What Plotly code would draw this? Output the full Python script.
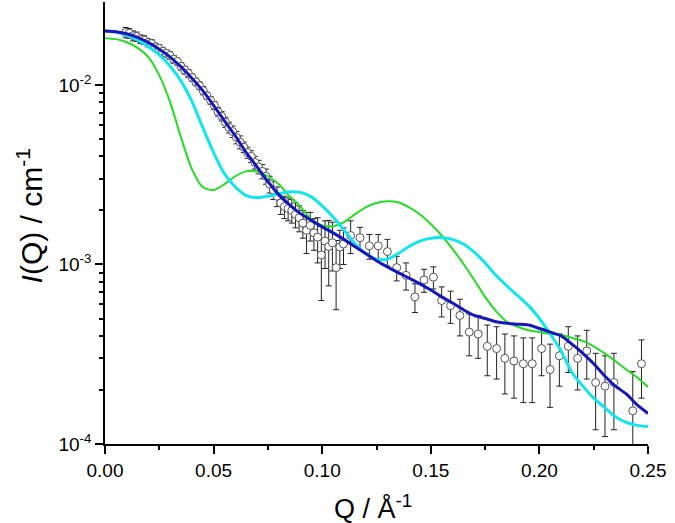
import plotly.graph_objects as go

# ---- measured data (Q in 1/Angstrom, I in 1/cm) ----
q_data = [0.0095, 0.0112, 0.0129, 0.0146, 0.0163, 0.0180, 0.0197, 0.0214, 0.0231, 0.0248,
          0.0265, 0.0282, 0.0299, 0.0316, 0.0333, 0.0350, 0.0367, 0.0384, 0.0401, 0.0418,
          0.0435, 0.0452, 0.0469, 0.0486, 0.0503, 0.0520, 0.0537, 0.0554, 0.0571, 0.0588,
          0.0605, 0.0622, 0.0639, 0.0656, 0.0673, 0.0690, 0.0707, 0.0724, 0.0741, 0.0758,
          0.0775, 0.0792, 0.0809, 0.0826, 0.0843, 0.0860, 0.0877, 0.0894, 0.0911, 0.0928,
          0.0945, 0.0962, 0.0979, 0.0996, 0.1013, 0.1030, 0.1047, 0.1064, 0.1081, 0.1098,
          0.1131, 0.1174, 0.1217, 0.1258, 0.1300, 0.1343, 0.1386, 0.1427, 0.1469, 0.1512,
          0.1550, 0.1591, 0.1634, 0.1677, 0.1718, 0.1760, 0.1803, 0.1841, 0.1883, 0.1926,
          0.1967, 0.2010, 0.2049, 0.2092, 0.2133, 0.2176, 0.2218, 0.2259, 0.2302, 0.2343,
          0.2430, 0.2470]
i_data = [0.0196, 0.0194, 0.0188, 0.0186, 0.0180, 0.0178, 0.0172, 0.0170, 0.0163, 0.0160,
          0.0154, 0.0150, 0.0146, 0.0139, 0.0135, 0.0127, 0.0121, 0.0116, 0.0110, 0.0104,
          0.0099, 0.0093, 0.0087, 0.0082, 0.0077, 0.0071, 0.0067, 0.0062, 0.0058, 0.0055,
          0.0051, 0.0048, 0.0045, 0.0042, 0.0040, 0.0037, 0.0035, 0.0033, 0.0031, 0.0028,
          0.0026, 0.0024, 0.0022, 0.0021, 0.00205, 0.0020, 0.0019, 0.00182, 0.0017, 0.00155,
          0.00165, 0.0015, 0.00142, 0.00113, 0.00135, 0.00126, 0.00132, 0.00096, 0.00125, 0.00130,
          0.00145, 0.00141, 0.00127, 0.00127, 0.00118, 0.00096, 0.00087, 0.00066, 0.00082, 0.00085,
          0.00063, 0.00059, 0.00052, 0.00042, 0.00041, 0.00035, 0.00034, 0.00030, 0.00029, 0.00028,
          0.00028, 0.00034, 0.00026, 0.00031, 0.00035, 0.00030, 0.00033, 0.00022, 0.00021, 0.00022,
          0.000153, 0.00028]
i_err = [0.0013, 0.0012, 0.0012, 0.0011, 0.0010, 0.0010, 0.0009, 0.0009, 0.0008, 0.0008,
         0.0008, 0.0007, 0.0007, 0.0007, 0.0006, 0.0006, 0.0006, 0.0006, 0.0005, 0.0005,
         0.0005, 0.0005, 0.0004, 0.0004, 0.0004, 0.0004, 0.0004, 0.0004, 0.0004, 0.0004,
         0.0004, 0.0004, 0.0003, 0.0003, 0.0003, 0.0003, 0.0003, 0.0003, 0.0003, 0.0003,
         0.0003, 0.0003, 0.0003, 0.0003, 0.0003, 0.0003, 0.0003, 0.0003, 0.0003, 0.0004,
         0.0003, 0.0003, 0.0004, 0.0005, 0.0004, 0.0005, 0.0004, 0.0004, 0.0003, 0.0003,
         0.0003, 0.0002, 0.0002, 0.0002, 0.0002, 0.00015, 0.00015, 0.00012, 0.00012, 0.00012,
         0.00012, 0.00012, 0.00012, 0.00011, 0.00011, 0.00011, 0.00011, 0.00011, 0.00011, 0.00011,
         0.00011, 0.00010, 0.00010, 0.00010, 0.00010, 0.00010, 0.00010, 0.00010, 0.00010, 0.00010,
         0.00010, 0.00010]

# ---- model curves ----
q_fit = [0.000, 0.005, 0.010, 0.015, 0.020, 0.025, 0.030, 0.035, 0.040, 0.045,
         0.050, 0.055, 0.060, 0.065, 0.070, 0.075, 0.080, 0.085, 0.090, 0.095,
         0.100, 0.105, 0.110, 0.115, 0.120, 0.125, 0.130, 0.135, 0.140, 0.145,
         0.150, 0.155, 0.160, 0.165, 0.170, 0.175, 0.180, 0.185, 0.190, 0.195,
         0.200, 0.205, 0.210, 0.215, 0.220, 0.225, 0.230, 0.235, 0.240, 0.245,
         0.250]
i_blue = [0.0200, 0.0198, 0.0193, 0.0184, 0.0172, 0.0158, 0.0143, 0.0126, 0.0109, 0.0093,
          0.0077, 0.0063, 0.0052, 0.0042, 0.0035, 0.0029, 0.00245, 0.00215, 0.00192, 0.00176,
          0.00162, 0.00150, 0.00138, 0.00126, 0.00115, 0.00105, 0.00097, 0.00090, 0.00084, 0.00078,
          0.00072, 0.00066, 0.00061, 0.00056, 0.00052, 0.00050, 0.00048, 0.00047, 0.000465, 0.00046,
          0.00044, 0.00042, 0.00040, 0.00036, 0.00032, 0.00028, 0.00024, 0.00021, 0.00019, 0.000165,
          0.000148]
i_green = [0.0182, 0.0180, 0.0173, 0.0161, 0.0143, 0.0113, 0.0080, 0.0051, 0.0034, 0.0027,
           0.0026, 0.0028, 0.0031, 0.0033, 0.0033, 0.0031, 0.0028, 0.0024, 0.0021, 0.00178,
           0.00165, 0.00163, 0.00172, 0.00190, 0.00208, 0.00220, 0.00225, 0.00222, 0.00208, 0.00190,
           0.00168, 0.00145, 0.00122, 0.00101, 0.00082, 0.00066, 0.00055, 0.00048, 0.00045, 0.00043,
           0.00042, 0.00041, 0.000405, 0.00039, 0.000375, 0.00035, 0.00032, 0.00029, 0.00026, 0.000235,
           0.000208]
i_cyan = [0.0200, 0.0197, 0.0189, 0.0178, 0.0163, 0.0147, 0.0127, 0.0105, 0.0081, 0.0058,
          0.0042, 0.0032, 0.0027, 0.00242, 0.00236, 0.00240, 0.00248, 0.00254, 0.00252, 0.00238,
          0.00212, 0.00184, 0.00156, 0.00131, 0.00115, 0.00107, 0.00107, 0.00115, 0.00126, 0.00135,
          0.00140, 0.00141, 0.00138, 0.00130, 0.00117, 0.00102, 0.00087, 0.00076, 0.00067, 0.00059,
          0.00050, 0.00041, 0.00033, 0.00025, 0.00021, 0.00018, 0.00016, 0.000142, 0.000132, 0.000127,
          0.000125]

# ---- axis ticks and titles ----
x_tickvals = [0.0, 0.05, 0.10, 0.15, 0.20, 0.25]
x_ticktext = ["0.00", "0.05", "0.10", "0.15", "0.20", "0.25"]
x_minor = [0.025, 0.075, 0.125, 0.175, 0.225]
y_tickvals = [1e-4, 1e-3, 1e-2]
y_ticktext = ["10<sup>-4</sup>", "10<sup>-3</sup>", "10<sup>-2</sup>"]
y_minor = [2e-4, 3e-4, 4e-4, 5e-4, 6e-4, 7e-4, 8e-4, 9e-4,
           2e-3, 3e-3, 4e-3, 5e-3, 6e-3, 7e-3, 8e-3, 9e-3]
x_title = "Q / Å<sup>-1</sup>"
y_title = "<i>I</i>(Q) / cm<sup>-1</sup>"

FONT = "Liberation Sans, Arial, sans-serif"

fig = go.Figure()
fig.add_trace(go.Scatter(
    x=q_data, y=i_data, mode="markers",
    marker=dict(symbol="circle", size=8, color="white",
                line=dict(color="#555555", width=1)),
    error_y=dict(type="data", array=i_err, visible=True,
                 color="#222222", thickness=1, width=3),
    showlegend=False))
fig.add_trace(go.Scatter(x=q_fit, y=i_green, mode="lines",
                         line=dict(color="#22dd22", width=2, shape="spline", smoothing=0.8),
                         showlegend=False))
fig.add_trace(go.Scatter(x=q_fit, y=i_cyan, mode="lines",
                         line=dict(color="#11e6f0", width=3, shape="spline", smoothing=0.8),
                         showlegend=False))
fig.add_trace(go.Scatter(x=q_fit, y=i_blue, mode="lines",
                         line=dict(color="#1616bc", width=3, shape="spline", smoothing=0.6),
                         showlegend=False))

fig.update_layout(
    width=675, height=523,
    margin=dict(l=105, r=27, t=2, b=79),
    paper_bgcolor="white", plot_bgcolor="white",
    font=dict(family=FONT, color="black"),
    xaxis=dict(
        range=[0, 0.25], showgrid=False, zeroline=False,
        showline=True, linecolor="black", linewidth=1.5, mirror=False,
        ticks="outside", ticklen=8, tickwidth=1.5, tickcolor="black",
        tickmode="array", tickvals=x_tickvals, ticktext=x_ticktext,
        tickfont=dict(size=19, family=FONT),
        minor=dict(tickmode="array", tickvals=x_minor, ticks="outside",
                   ticklen=4, tickwidth=1.5, tickcolor="black", showgrid=False),
        automargin=False),
    yaxis=dict(
        type="log", range=[-4, -1.538], showgrid=False, zeroline=False,
        showline=True, linecolor="black", linewidth=1.5, mirror=False,
        ticks="outside", ticklen=8, tickwidth=1.5, tickcolor="black",
        tickmode="array", tickvals=y_tickvals, ticktext=y_ticktext,
        tickfont=dict(size=19, family=FONT),
        minor=dict(tickmode="array", tickvals=y_minor, ticks="outside",
                   ticklen=4, tickwidth=1.5, tickcolor="black", showgrid=False),
        automargin=False),
    annotations=[
        dict(text=x_title, xref="paper", yref="paper", x=0.493, y=-0.1425,
             xanchor="center", yanchor="middle", showarrow=False,
             font=dict(size=27, family=FONT, color="black")),
        dict(text=y_title, xref="paper", yref="paper", x=-0.138, y=0.515,
             xanchor="center", yanchor="middle", textangle=-90, showarrow=False,
             font=dict(size=30, family=FONT, color="black")),
    ],
)

fig.write_html("out.html", config={"displayModeBar": False},
               post_script="document.body.style.margin='0px';")
